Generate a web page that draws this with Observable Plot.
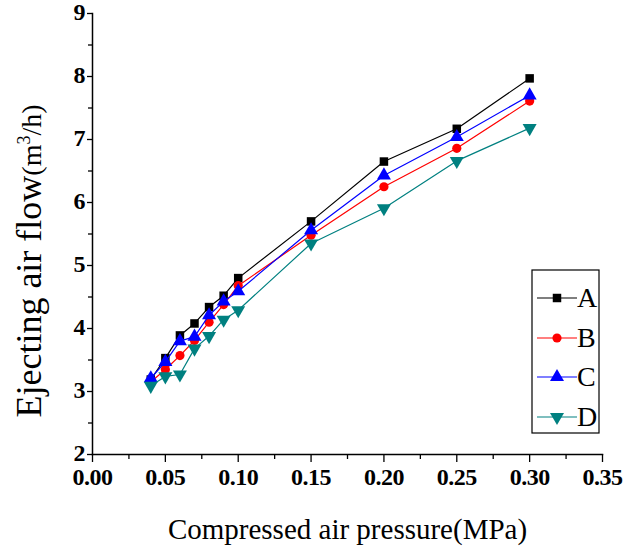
<!DOCTYPE html>
<html>
<head>
<meta charset="utf-8">
<script src="https://cdn.jsdelivr.net/npm/d3@7"></script>
<script src="https://cdn.jsdelivr.net/npm/@observablehq/plot@0.6"></script>
<style>
  body { margin: 0; background: #fff; }
  #wrap { position: relative; width: 626px; height: 556px; }
  #legend { position: absolute; left: 0; top: 0; }
</style>
</head>
<body>
<div id="wrap"></div>
<script>
const pressure = [0.04, 0.05, 0.06, 0.07, 0.08, 0.09, 0.10, 0.15, 0.20, 0.25, 0.30];
const seriesA = [3.19, 3.53, 3.89, 4.08, 4.34, 4.52, 4.80, 5.70, 6.65, 7.17, 7.97];
const seriesB = [3.15, 3.35, 3.57, 3.81, 4.10, 4.38, 4.68, 5.48, 6.25, 6.86, 7.61];
const seriesC = [3.21, 3.47, 3.80, 3.87, 4.21, 4.43, 4.59, 5.56, 6.43, 7.04, 7.70];
const seriesD = [3.09, 3.24, 3.27, 3.68, 3.88, 4.14, 4.29, 5.35, 5.91, 6.66, 7.18];
const seriesNames = ["A", "B", "C", "D"];
const seriesColors = ["#000000", "#ff0000", "#0000ff", "#008080"];
const xTicks = [0.00, 0.05, 0.10, 0.15, 0.20, 0.25, 0.30, 0.35];
const yTicks = [2, 3, 4, 5, 6, 7, 8, 9];
const xLabel = "Compressed air pressure(MPa)";
const yLabelMain = "Ejecting air flow";
const yLabelUnit = ["(m", "3", "/h)"];

const triangleDown = {
  draw(context, size) {
    const y = -Math.sqrt(size / (Math.sqrt(3) * 3));
    context.moveTo(0, -y * 2);
    context.lineTo(-Math.sqrt(3) * y, y);
    context.lineTo(Math.sqrt(3) * y, y);
    context.closePath();
  }
};
const seriesSymbols = ["square", "circle", "triangle", triangleDown];

const allSeries = [seriesA, seriesB, seriesC, seriesD];
const data = [];
allSeries.forEach((vals, si) => {
  vals.forEach((v, i) => data.push({x: pressure[i], y: v, s: seriesNames[si], si}));
});

const minorX = d3.range(0.025, 0.35, 0.05);
const minorY = d3.range(2.5, 9, 1);
const font = "Liberation Serif, Times New Roman, serif";
const fx = d3.format(".2f");

const chart = Plot.plot({
  width: 626,
  height: 556,
  marginLeft: 92,
  marginRight: 24,
  marginTop: 13,
  marginBottom: 102,
  style: {fontFamily: font, background: "#fff", color: "#000"},
  x: {domain: [0, 0.35]},
  y: {domain: [2, 9]},
  marks: [
    Plot.axisX({ticks: xTicks, tickSize: 8, text: null, label: null, strokeWidth: 1.3}),
    Plot.axisX({ticks: minorX, tickSize: 5, text: null, label: null, strokeWidth: 1.3}),
    Plot.axisY({ticks: yTicks, tickSize: 5, text: null, label: null, strokeWidth: 1.3}),
    Plot.axisY({ticks: minorY, tickSize: 4, text: null, label: null, strokeWidth: 1.3}),
    Plot.text(xTicks, {x: d => d, frameAnchor: "bottom", dy: 30, text: d => fx(d),
      fontSize: 24, fontWeight: "bold", fontFamily: font, fill: "#000"}),
    Plot.text(yTicks, {y: d => d, frameAnchor: "left", dx: -7, dy: -1.5, textAnchor: "end", text: d => String(d),
      fontSize: 24, fontWeight: "bold", fontFamily: font, fill: "#000"}),
    Plot.frame({anchor: "left", strokeWidth: 1.5}),
    Plot.frame({anchor: "bottom", strokeWidth: 1.5}),
    ...seriesNames.map((name, si) => [
      Plot.line(data.filter(d => d.si === si), {x: "x", y: "y", stroke: seriesColors[si], strokeWidth: 1.2}),
      Plot.dot(data.filter(d => d.si === si), {x: "x", y: "y", fill: seriesColors[si], stroke: "none",
        symbol: () => seriesSymbols[si], r: si === 1 ? 4.6 : (si === 0 ? 4.8 : 5.2)})
    ]).flat(),
    Plot.text([xLabel], {frameAnchor: "bottom", dy: 84, fontSize: 29, fontFamily: font,
      text: d => d, fill: "#000"}),
    Plot.text([yLabelMain], {frameAnchor: "left", dx: -63, dy: 27, rotate: -90, fontSize: 36,
      textAnchor: "middle", fontFamily: font, text: d => d, fill: "#000"})
  ]
});

const ns = "http://www.w3.org/2000/svg";
chart.querySelectorAll("text").forEach(t => {
  const s = t.textContent;
  if (/^\d\.\d\d$/.test(s)) {
    t.setAttribute("letter-spacing", "-0.5");
    t.style.letterSpacing = "-0.5px";
  } else if (s === yLabelMain) {
    const a = document.createElementNS(ns, "tspan");
    a.setAttribute("font-size", "28"); a.textContent = yLabelUnit[0];
    const b = document.createElementNS(ns, "tspan");
    b.setAttribute("font-size", "18"); b.setAttribute("dy", "-11"); b.textContent = yLabelUnit[1];
    const c = document.createElementNS(ns, "tspan");
    c.setAttribute("font-size", "28"); c.setAttribute("dy", "11"); c.textContent = yLabelUnit[2];
    t.appendChild(a); t.appendChild(b); t.appendChild(c);
  }
});
document.getElementById("wrap").appendChild(chart);

// Legend overlay
const leg = d3.select("#wrap").append("svg").attr("id", "legend")
  .attr("width", 626).attr("height", 556);
leg.append("rect").attr("x", 532).attr("y", 270).attr("width", 67).attr("height", 163)
  .attr("fill", "#fff").attr("stroke", "#000").attr("stroke-width", 1.2);
const rowY = [298, 338, 377, 417];
const symGen = [d3.symbolSquare, d3.symbolCircle, d3.symbolTriangle, triangleDown];
seriesNames.forEach((name, i) => {
  const g = leg.append("g").attr("transform", `translate(0,${rowY[i]})`);
  g.append("line").attr("x1", 537).attr("x2", 577).attr("stroke", seriesColors[i]).attr("stroke-width", 1.2);
  g.append("path").attr("transform", "translate(557,0)")
    .attr("d", d3.symbol(symGen[i], i === 1 ? 66 : (i === 0 ? 72 : 85))()).attr("fill", seriesColors[i]);
  g.append("text").attr("x", 577).attr("y", 9).attr("font-family", font).attr("font-size", 28)
    .text(name);
});
</script>
</body>
</html>
